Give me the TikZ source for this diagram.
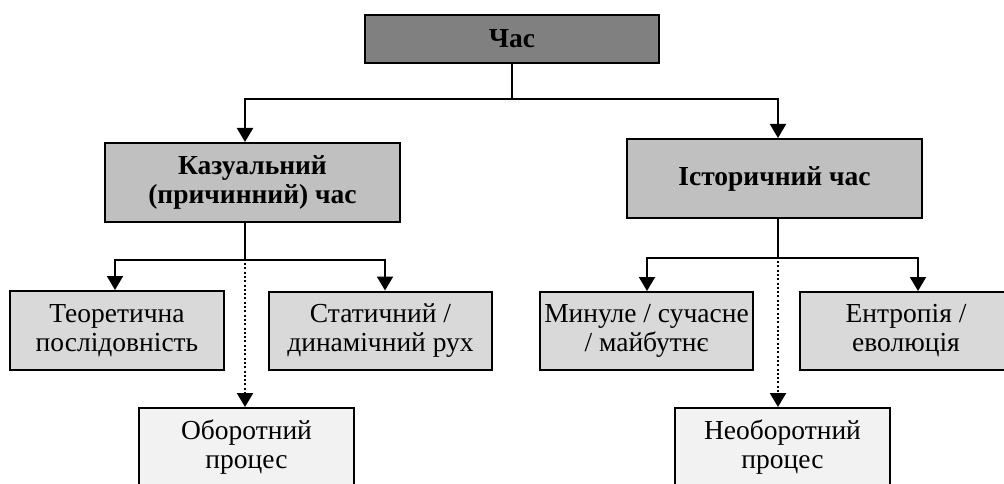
\documentclass[tikz,border=0pt]{standalone}
\usepackage{fontspec}
\setmainfont{Liberation Serif}
\usetikzlibrary{arrows.meta}
\definecolor{cTop}{HTML}{808080}
\definecolor{cMid}{HTML}{C0C0C0}
\definecolor{cLow}{HTML}{D9D9D9}
\definecolor{cBot}{HTML}{F2F2F2}
\begin{document}
\begin{tikzpicture}[x=1pt,y=1pt,
  box/.style={draw=black, line width=2pt, inner sep=0pt, align=center,
    minimum height=79pt, font=\fontsize{27.5}{29}\selectfont},
  boldbox/.style={box, font=\fontsize{27.5}{29}\selectfont\bfseries},
  conn/.style={line width=2pt, draw=black},
  arr/.style={conn, -{Triangle[width=16pt,length=14pt]}},
  dotarr/.style={line width=2.2pt, dash pattern=on 2pt off 2.3pt, -{Triangle[width=16pt,length=14pt]}}
]
\useasboundingbox (0,0) rectangle (1004,-484);
\clip (0,0) rectangle (1004,-484);
% nodes
\node[boldbox, fill=cTop, minimum width=294pt, minimum height=48pt] (top) at (512,-39) {Час};
\node[boldbox, fill=cMid, minimum width=295pt] (kaz) at (252.5,-182.5) {Казуальний\\(причинний) час};
\node[boldbox, fill=cMid, minimum width=295pt] (ist) at (774.5,-178.5) {Історичний час};
\node[box, fill=cLow, minimum width=214pt] (teo) at (117,-330.5) {Теоретична\\послідовність};
\node[box, fill=cLow, minimum width=223pt, minimum height=78pt] (stat) at (380.5,-330.5) {Статичний /\\динамічний рух};
\node[box, fill=cLow, minimum width=213pt, minimum height=78pt] (min) at (646.5,-331) {Минуле / сучасне\\/ майбутнє};
\node[box, fill=cLow, minimum width=212pt, minimum height=78pt] (entr) at (906,-331) {Ентропія /\\еволюція};
\node[box, fill=cBot, minimum width=215pt] (obor) at (246.5,-447.5) {Оборотний\\процес};
\node[box, fill=cBot, minimum width=215pt] (neob) at (782.5,-447.5) {Необоротний\\процес};
% helper coordinates
\coordinate (j0) at (512,-99);
\coordinate (kx) at (245,0);
\coordinate (ix) at (778,0);
\coordinate (jk) at (245,-260);
\coordinate (ji) at (778,-258);
\coordinate (tx) at (115,0);
\coordinate (sx) at (385,0);
\coordinate (mx) at (647,0);
\coordinate (ex) at (918,0);
% connectors
\draw[conn] (top.south) -- (j0);
\draw[arr] (j0) -| (kaz.north -| kx);
\draw[arr] (j0) -| (ist.north -| ix);
\draw[conn] (kaz.south -| kx) -- (jk);
\draw[arr] (jk) -| (teo.north -| tx);
\draw[arr] (jk) -| (stat.north -| sx);
\draw[dotarr] ([yshift=-3pt]jk) -- (obor.north -| kx);
\draw[conn] (ist.south -| ix) -- (ji);
\draw[arr] (ji) -| (min.north -| mx);
\draw[arr] (ji) -| (entr.north -| ex);
\draw[dotarr] ([yshift=-3pt]ji) -- (neob.north -| ix);
\end{tikzpicture}
\end{document}
